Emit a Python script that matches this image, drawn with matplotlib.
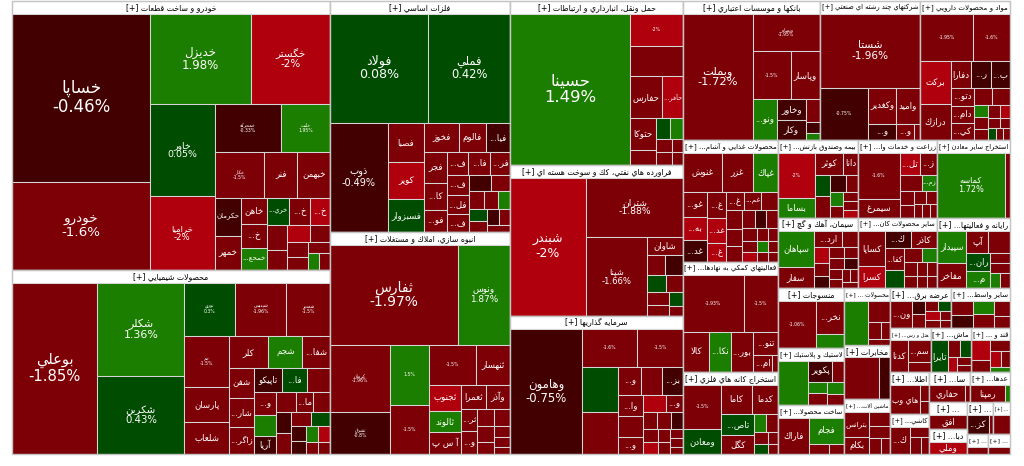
import numpy as np
import matplotlib
matplotlib.use('Agg')
import matplotlib.pyplot as plt
from matplotlib.patches import Rectangle

plt.rcParams['font.family'] = ['DejaVu Sans']

# sector headers (as printed on the map) and sector weights
sector_names = [
    'خودرو و ساخت قطعات', 'محصولات شيميايي', 'فلزات اساسي',
    'انبوه سازي، املاك و مستغلات', 'حمل ونقل، انبارداري و ارتباطات',
    'فراورده هاي نفتي، كك و سوخت هسته اي', 'سرمايه گذاريها',
    'بانكها و موسسات اعتباري', 'شركتهاي چند رشته اي صنعتي', 'مواد و محصولات دارويي',
    'محصولات غذايي و آشام...', 'فعاليتهاي كمكي به نهادها...', 'استخراج كانه هاي فلزي',
    'بيمه وصندوق بازنش...', 'زراعت و خدمات وا...', 'استخراج ساير معادن',
    'سيمان، آهك و گچ', 'ساير محصولات كان...', 'رايانه و فعاليتها...',
    'منسوجات', 'لاستيك و پلاستيك', 'ساخت محصولا...',
    'مخابرات', 'محصولات ...', 'ماشين آلات...', 'عرضه برق...', 'ساير واسط...',
    'هتل و رس...', 'قند و ...', 'ماش...', 'اطلا...', 'كاشي...', 'سا...', '...', '...',
    'عدها...', 'دبا...', '...', '...', '...',
]
sector_values = [
    85542, 58512, 41580, 39960, 28372, 26123, 23874, 19043, 13900, 12510,
    11590, 10450, 7790, 6240, 6162, 5694, 5600, 5530, 5110, 3960, 3762, 3234,
    2520, 2632, 2520, 2430, 2352, 1792, 1739, 1786, 1645, 1554, 1218, 1008, 840,
    1184, 928, 544, 432, 432,
]

# stocks of every sector: ticker, weight, daily change (%)
stock_names = [
    ['خساپا', 'خودرو', 'خديزل', 'خگستر', 'خاور', 'خرامیا', 'خمحركه', 'خلنت', 'خكار', 'فنر',
     'خبهمن', 'حكرمان', 'خمهر', 'خاهن', 'خمحع...', 'خري...', 'خ...', 'خ...', 'خ...',
     '', '', '', '', '', '', '', '', ''],
    ['بوعلي', 'شكلر', 'شكربن', 'نوري', 'شپديس', 'شغدير', 'جم', 'پارسان', 'شلعاب', 'كلر',
     'شجم', 'شفا...', 'شفن', 'زاگر...', 'فا...', 'و...', '', 'شار...', 'آريا', 'تاپيكو',
     '', '', 'ما...', '', '', '', '', '', '', '', '', '', '', ''],
    ['فولاد', 'فملي', 'ذوب', 'فصبا', 'كوير', 'فسبزوار', 'فخوز', 'فالوم', 'فيا...', 'فجر',
     'كا...', 'فو...', 'ف...', 'فا...', 'فر...', 'ف...', 'فل...', 'ف...',
     '', '', '', '', '', '', '', '', '', ''],
    ['ثفارس', 'ونوس', 'كرمان', 'ثشرق', '', '', '', 'ثنهسار', 'ثجنوب', 'ثعمرا', 'وآذر',
     'ثالوند', 'آ س پ', 'ثر...', 'و...', '', '', '', '', '', '', ''],
    ['حسينا', '', '', 'حفارس', 'حآفر...', 'حتوكا', '', '', '', '', '', '', ''],
    ['شبندر', 'شتران', 'شپنا', 'شاوان', '', '', '', '', '', '', '', ''],
    ['وهامون', '', '', '', '', 'و...', '', 'بز...', 'وا...', 'و...', '', '', 'و...',
     '', '', '', '', '', '', '', '', '', ''],
    ['وبملت', 'وبصادر', '', 'وپاسار', 'ونو...', 'وخاور', 'وكار', '', '', ''],
    ['شستا', '', 'وكغدير', 'واميد', 'و...', 'و...', ''],
    ['', '', 'بركت', 'درازك', 'دفارا', 'ر...', 'ب...', 'دتو...', 'دام...', 'كي...',
     '', '', '', '', '', '', '', '', '', '', '', ''],
    ['غنوش', 'غزر', 'غپاك', 'غو...', 'به...', 'غد...', 'غ...', 'غد...', 'غ...', 'غ...',
     'غم...', '', '', '', '', '', '', '', '', '', '', '', '', '', '', '', ''],
    ['', '', 'كالا', 'نكا...', 'بور...', 'تنو...', 'ام...', ''],
    ['', 'ومعادن', 'كاما', 'كدما', 'تاص...', 'كگل', '', '', '', '', '', ''],
    ['', 'بساما', 'كوثر', 'دانا', '', '', '', '', '', '', '', '', ''],
    ['', 'سيمرغ', 'تل...', 'ز...', '', 'زم...', '', '', '', '', '', '', ''],
    ['كماسه', ''],
    ['سپاهان', 'سفار', 'ارد...', '', '', '', '', '', '', '', '', '', '', '', '', ''],
    ['كساپا', 'كسرا', 'ك...', 'كاذر', 'كفا...', '', '', '', '', '', '', '', '', ''],
    ['سپيدار', 'مفاخر', 'آپ', '', 'ران...', 'م...', '', '', '', ''],
    ['', 'نخر...', ''],
    ['', 'پكوير', '', '', '', '', ''],
    ['فاراك', 'فجام', '', ''],
    ['', ''],
    ['', '', '', '', ''],
    ['بترانس', 'بكام', '', '', '', ''],
    ['ون...', '', '', '', '', '', '', '', ''],
    ['', '', '', '', '', ''],
    ['كدنا', 'سم...', ''],
    ['', '', '', '', '', ''],
    ['تايرا', '', '', '', '', ''],
    ['هاي وب', '', ''],
    ['ك...', '', '', ''],
    ['حفاري', ''],
    ['افق'],
    ['كز...', ''],
    ['رمپنا', ''],
    ['وملي'],
    [''],
    [''],
    [''],
]
stock_values = [
    [23520, 12320, 9300, 7254, 6030, 4891, 3213, 2346, 2303, 1568, 1519, 1023, 900, 700,
     600, 600, 650, 600, 550, 500, 400, 380, 350, 300, 280, 250, 200, 180],
    [14535, 8091, 6786, 2703, 2703, 2332, 2244, 1540, 1408, 1280, 1088, 896, 750, 690,
     570, 500, 540, 750, 400, 650, 450, 400, 350, 350, 300, 300, 280, 250, 220, 200,
     200, 180, 150, 150],
    [10780, 9020, 6360, 1444, 1368, 1216, 1023, 806, 713, 700, 600, 500, 500, 500, 450,
     450, 450, 400, 350, 300, 280, 250, 230, 220, 200, 200, 180, 150],
    [12928, 5252, 4026, 2562, 2340, 1872, 1927, 1353, 825, 600, 575, 693, 693, 374, 374,
     300, 280, 250, 200, 180, 150, 120],
    [18422, 1734, 1632, 1326, 884, 850, 400, 300, 275, 200, 200, 150, 150],
    [10764, 5890, 4940, 660, 360, 350, 330, 300, 280, 250, 200, 150],
    [9125, 2200, 1800, 1672, 1558, 638, 580, 580, 528, 408, 528, 400, 300, 250, 250,
     200, 200, 180, 150, 150, 120, 120, 100],
    [8820, 2546, 1824, 1392, 960, 600, 600, 312, 150, 100],
    [7400, 2496, 1008, 864, 448, 288, 100],
    [2438, 1702, 1247, 1073, 525, 500, 500, 400, 378, 378, 300, 300, 168, 156, 156,
     150, 120, 120, 100, 100, 80, 80],
    [1482, 1178, 950, 575, 529, 506, 462, 441, 342, 315, 294, 288, 288, 260, 240, 220,
     200, 200, 180, 160, 150, 140, 130, 120, 110, 100, 90],
    [3480, 1972, 1040, 880, 880, 575, 323, 100],
    [1665, 928, 888, 754, 672, 608, 208, 208, 150, 130, 120, 100],
    [1702, 740, 644, 345, 330, 330, 286, 200, 180, 160, 150, 140, 120],
    [1920, 800, 440, 384, 340, 240, 200, 180, 160, 140, 120, 110, 100],
    [4488, 330],
    [1295, 735, 440, 264, 242, 180, 180, 170, 160, 150, 140, 130, 120, 110, 100, 90],
    [972, 594, 460, 460, 414, 340, 240, 204, 180, 160, 150, 140, 130, 120],
    [957, 725, 480, 480, 432, 400, 200, 200, 150, 150],
    [1840, 945, 378],
    [1350, 500, 250, 220, 220, 204, 180],
    [1110, 925, 200, 150],
    [1419, 430],
    [1023, 450, 200, 150, 120],
    [640, 416, 300, 250, 200, 150],
    [627, 200, 200, 150, 150, 140, 120, 100, 100],
    [330, 300, 300, 300, 250, 200],
    [480, 400, 200],
    [375, 250, 200, 180, 150, 100],
    [560, 200, 180, 150, 120, 100],
    [945, 150, 130],
    [540, 200, 180, 150],
    [754, 100],
    [660],
    [560, 100],
    [650, 90],
    [560],
    [300],
    [250],
    [250],
]
stock_changes = [
    [-0.46, -1.6, 1.98, -2, 0.05, -2, -0.33, 1.95, -1.5, -1.4, -1.5, -0.6, -1.5, -1.5,
     1.3, 0.4, -1.5, -1.5, -2, -1.5, -1.5, -2, -1.5, -1.5, -1.5, -1.4, 1.2, -1.5],
    [-1.85, 1.36, 0.43, 0.3, -1.96, -1.5, -1.5, -1.5, -1.5, -1.5, 1.2, -1.5, -1.5, -1.5,
     0.4, -1.5, -1.5, -1.5, -0.6, -0.6, 1.5, -1.5, -1.5, -1.5, -0.5, -1.5, -1.5, 0.4,
     -0.5, -0.5, 1.5, -2, -1.5, -1.5],
    [0.08, 0.42, -0.49, -1.5, -2, 0.5, -1.5, -1.5, -0.6, -1.5, -1.5, -1.5, -1.5, -1.5,
     -1.5, -1.5, -1.5, -1.5, -0.6, -1.5, -1.5, -1.5, 1.3, 0.4, -1.5, -0.6, -1.5, -1.5],
    [-1.97, 1.87, -1.96, -0.8, 1.5, -1.5, -1.5, -1.5, -2, -1.5, -1.5, 1.5, -1.5, -1.5,
     -1.5, -1.5, -1.5, -1.5, -1.5, -1.5, -1.5, -1.5],
    [1.49, -2, -1.5, -1.5, -2, -1.5, -1.5, 0.5, 1.2, -1.5, -1.5, -1.5, -1.5],
    [-2, -1.88, -1.66, -1.5, -1.5, -0.6, 0.5, -1.5, -1.5, -1.5, 0.3, -1.5],
    [-0.75, -1.6, -1.5, 0.3, -1.6, -1.5, -1.5, -0.6, -1.5, -1.5, -1.5, -2, -1.5, -1.5,
     -1.5, -0.6, -1.5, -2, -1.5, -1.5, -1.5, -1.5, -1.5],
    [-1.72, -1.95, -1.5, -1.5, 1.5, -0.6, -0.6, -1.5, -0.6, 1.5],
    [-1.96, -0.75, -1.5, -1.5, -0.6, -1.5, -1.5],
    [-1.95, -1.6, -2, -1.5, -1.5, -0.6, -0.6, -1.5, -1.5, -1.5, -1.5, -1.5, 1.5, -1.5,
     -1.5, -1.5, -2, -1.5, -1.5, 0.4, -1.5, -1.5],
    [-1.8, -1.5, 1.5, -1.5, -2, -0.6, -1.5, -2, -2, -1.5, -1.5, -1.5, -1.5, -1.5, -1.5,
     -1.5, -0.6, -1.5, -1.5, -1.5, -2, -1.5, -1.5, 1.5, -1.5, -1.5, -1.5],
    [-1.93, -1.5, -1.5, 1.5, -1.5, -1.5, -1.5, -1.5],
    [-1.5, 0.3, -1.5, -1.5, 0.4, -1.5, 1.5, -1.5, -1.5, 0.3, -1.5, -1.5],
    [-2, 1.5, -1.5, -1.5, 0.4, -1.5, -0.6, -1.5, 1.5, -1.5, -1.5, -1.5, -2],
    [-1.6, -1.5, -2, -1.5, -1.5, 1.2, -1.5, -1.5, -1.5, -1.5, -1.5, -1.5, -1.5],
    [1.72, -1.5],
    [1.5, -1.5, -1.5, -1.5, -2, -1.5, -0.6, -1.5, -1.5, -1.5, -0.6, -1.5, -1.5, -1.5,
     -1.5, -1.5],
    [-1.5, -2, -0.6, -1.5, -1.5, 0.4, -1.5, 1.5, -1.5, -1.5, -1.5, -1.5, -1.5, -1.5],
    [1.5, -1.5, -1.5, -1.5, 0.3, 1.4, -1.5, -1.5, 1.5, -1.5],
    [-1.06, -1.5, 1.5],
    [1.5, -0.6, -1.5, 1.3, -1.5, 1.2, -1.5],
    [-1.5, 1.5, -1.5, -1.5],
    [-1.5, -0.6],
    [1.5, -1.5, -1.5, -1.5, -1.5],
    [-1.5, -1.5, -1.5, -1.5, -1.5, -1.5],
    [-1.5, -0.6, -1.5, -1.5, 0.3, -2, -1.5, -1.5, -1.5],
    [-1.5, -0.6, 1.3, -1.5, -1.5, -1.5],
    [-1.5, -1.5, -1.5],
    [-2, -1.5, -1.5, -2, -1.5, 1.5],
    [0.4, -1.5, 0.4, -2, -1.5, -1.5],
    [-1.5, -1.5, -1.5],
    [-1.5, -1.5, -1.5, -1.5],
    [-1.5, -1.5],
    [-1.5],
    [-0.6, -1.5],
    [-1.5, 1.5],
    [-2],
    [-1.5],
    [-1.5],
    [-1.5],
]

# ---- minimal arabic shaping (presentation forms) ----
DUAL = {'ب': 0xFE8F, 'ت': 0xFE95, 'ث': 0xFE99, 'ج': 0xFE9D, 'ح': 0xFEA1, 'خ': 0xFEA5,
        'س': 0xFEB1, 'ش': 0xFEB5, 'ص': 0xFEB9, 'ض': 0xFEBD, 'ط': 0xFEC1, 'ظ': 0xFEC5,
        'ع': 0xFEC9, 'غ': 0xFECD, 'ف': 0xFED1, 'ق': 0xFED5, 'ك': 0xFED9, 'ل': 0xFEDD,
        'م': 0xFEE1, 'ن': 0xFEE5, 'ه': 0xFEE9, 'ي': 0xFEF1, 'ئ': 0xFE89,
        'پ': 0xFB56, 'چ': 0xFB7A, 'ک': 0xFB8E, 'گ': 0xFB92, 'ی': 0xFBFC}
RIGHT = {'ا': 0xFE8D, 'آ': 0xFE81, 'أ': 0xFE83, 'ؤ': 0xFE85, 'إ': 0xFE87, 'ة': 0xFE93,
         'د': 0xFEA9, 'ذ': 0xFEAB, 'ر': 0xFEAD, 'ز': 0xFEAF, 'و': 0xFEED, 'ژ': 0xFB8A}
LAMALEF = {'ا': 0xFEFB, 'آ': 0xFEF5, 'أ': 0xFEF7, 'إ': 0xFEF9}


def shape(s):
    out = []
    i = 0
    while i < len(s):
        c = s[i]
        pj = i > 0 and s[i - 1] in DUAL
        nxt = s[i + 1] if i + 1 < len(s) else ''
        if c == 'ل' and nxt in LAMALEF:
            out.append(chr(LAMALEF[nxt] + (1 if pj else 0)))
            i += 2
            continue
        nj = nxt in DUAL or nxt in RIGHT
        if c in DUAL:
            k = (3 if nj else 1) if pj else (2 if nj else 0)
            out.append(chr(DUAL[c] + k))
        elif c in RIGHT:
            out.append(chr(RIGHT[c] + (1 if pj else 0)))
        else:
            out.append(c)
        i += 1
    return ''.join(out)


def rtl(s):
    return shape(s)[::-1]


# ---- squarified treemap ----
def layout(sizes, x, y, dx, dy):
    rects = []
    if dx >= dy:
        wd = sum(sizes) / dy
        for s in sizes:
            rects.append((x, y, wd, s / wd))
            y += s / wd
    else:
        ht = sum(sizes) / dx
        for s in sizes:
            rects.append((x, y, s / ht, ht))
            x += s / ht
    return rects


def leftover(sizes, x, y, dx, dy):
    if dx >= dy:
        wd = sum(sizes) / dy
        return x + wd, y, dx - wd, dy
    ht = sum(sizes) / dx
    return x, y + ht, dx, dy - ht


def worst(sizes, x, y, dx, dy):
    return max(max(w / h, h / w) for (_, _, w, h) in layout(sizes, x, y, dx, dy))


def squarify(sizes, x, y, dx, dy):
    if len(sizes) == 0:
        return []
    if len(sizes) == 1:
        return layout(sizes, x, y, dx, dy)
    i = 1
    while i < len(sizes) and worst(sizes[:i], x, y, dx, dy) >= worst(sizes[:i + 1], x, y, dx, dy):
        i += 1
    lx, ly, ldx, ldy = leftover(sizes[:i], x, y, dx, dy)
    return layout(sizes[:i], x, y, dx, dy) + squarify(sizes[i:], lx, ly, ldx, ldy)


def treemap(values, x, y, dx, dy):
    order = sorted(range(len(values)), key=lambda k: -values[k])
    tot = float(sum(values))
    sizes = [values[k] * dx * dy / tot for k in order]
    rects = squarify(sizes, x, y, dx, dy)
    res = [None] * len(values)
    for k, r in zip(order, rects):
        res[k] = r
    return res


def cell_color(c):
    if c <= -1.99:
        return '#b0000e'
    if c <= -1:
        return '#7c0006'
    if c < 0:
        return '#430000'
    if c < 1:
        return '#004c00'
    return '#1c7e00'


fig = plt.figure(figsize=(10.24, 4.66), dpi=100)
ax = fig.add_axes([0, 0, 1, 1])
ax.set_xlim(0, 1024)
ax.set_ylim(466, 0)
ax.axis('off')
renderer = fig.canvas.get_renderer()


def fit(t, mw, mh):
    bb = t.get_window_extent(renderer)
    sc = min(1.0, mw / max(bb.width, 1e-6), mh / max(bb.height, 1e-6))
    fs = t.get_fontsize() * sc
    if fs < 2.4:
        t.remove()
    else:
        t.set_fontsize(fs)


def put_label(x, y, w, h, name, chg):
    area = w * h
    pct = '%g%%' % chg
    cx, cy = x + w / 2, y + h / 2
    if area >= 4400 and w >= 45 and h >= 50:
        fs = min(0.088 * np.sqrt(area), 0.125 * w, 12)
        t = ax.text(cx, cy, rtl(name) + '\n' + pct, ha='center', va='center',
                    color='white', fontsize=fs, linespacing=1.05)
        fit(t, 0.9 * w, 0.9 * h)
    elif area >= 1650:
        txt = rtl(name) + '\n' + pct if name else pct
        t = ax.text(cx, cy, txt, ha='center', va='center', color='white',
                    fontsize=3.3, linespacing=1.0)
        fit(t, 0.9 * w, 0.9 * h)
    elif name and w >= 14 and h >= 11:
        t = ax.text(cx, cy, rtl(name), ha='center', va='center', color='white',
                    fontsize=6.2)
        fit(t, 0.88 * w, 0.85 * h)


X0, Y0, W, H = 12, 1, 998, 453
sec_rects = treemap(sector_values, X0, Y0, W, H)

for si, (sx, sy, sw, sh) in enumerate(sec_rects):
    hh = min(12.5, sh)
    # header strip
    ax.add_patch(Rectangle((sx, sy), sw, hh, facecolor='white', edgecolor='#c8c8c8', lw=0.8))
    ht = ax.text(sx + sw / 2, sy + hh / 2 + 0.5, '[+] ' + rtl(sector_names[si]),
                 ha='center', va='center', color='black', fontsize=5.6)
    fit(ht, sw - 4, hh)
    ch = sh - hh
    if ch < 1.5:
        continue
    cells = treemap(stock_values[si], sx, sy + hh, sw, ch)
    for k, (x, y, w, h) in enumerate(cells):
        c = stock_changes[si][k]
        ax.add_patch(Rectangle((x, y), w, h, facecolor=cell_color(c),
                               edgecolor='#d6d6d6', lw=0.75))
        put_label(x, y, w, h, stock_names[si][k], c)
    ax.add_patch(Rectangle((sx, sy), sw, sh, facecolor='none', edgecolor='#c4c4c4', lw=1.0))

fig.savefig('out.png', dpi=100)
